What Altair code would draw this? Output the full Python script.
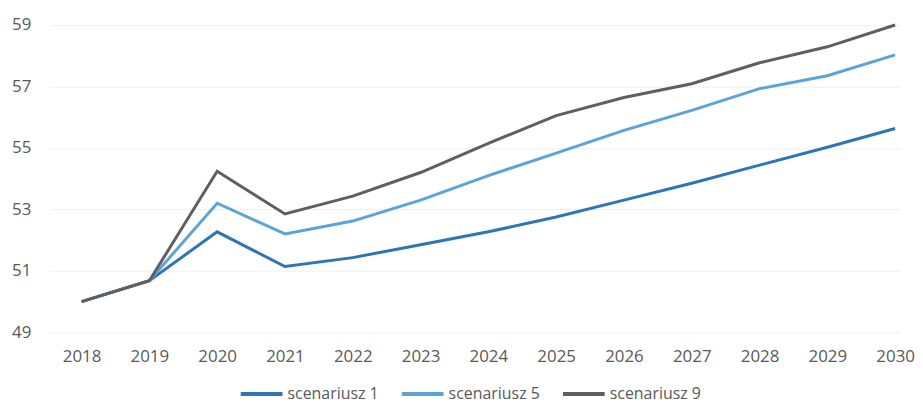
import altair as alt
import pandas as pd

years = [2018, 2019, 2020, 2021, 2022, 2023, 2024, 2025, 2026, 2027, 2028, 2029, 2030]
s1 = [50.0, 50.68, 52.27, 51.14, 51.43, 51.85, 52.27, 52.75, 53.30, 53.85, 54.44, 55.02, 55.63]
s5 = [50.0, 50.68, 53.20, 52.20, 52.62, 53.30, 54.10, 54.83, 55.57, 56.22, 56.93, 57.35, 58.03]
s9 = [50.0, 50.68, 54.24, 52.85, 53.43, 54.20, 55.15, 56.05, 56.64, 57.09, 57.77, 58.29, 59.00]
series_names = ["scenariusz 1", "scenariusz 5", "scenariusz 9"]
series_colors = ["#2E75B6", "#5BA3D9", "#5F5F5F"]
y_ticks = [49, 51, 53, 55, 57, 59]

rows = []
for name, vals in zip(series_names, [s1, s5, s9]):
    for yr, v in zip(years, vals):
        rows.append({"rok": yr, "wartosc": v, "seria": name})
df = pd.DataFrame(rows)

FONT = "Open Sans"
TXT = "#595959"

chart = alt.Chart(df).mark_line(strokeWidth=3).encode(
    x=alt.X("rok:Q",
            scale=alt.Scale(domain=[2017.531, 2030.073], nice=False, zero=False),
            axis=alt.Axis(values=years, format="d", title=None, grid=False,
                          domain=False, ticks=False, labelPadding=16,
                          labelFontSize=17, labelColor=TXT, labelFont=FONT)),
    y=alt.Y("wartosc:Q",
            scale=alt.Scale(domain=[49, 59], nice=False, zero=False),
            axis=alt.Axis(values=y_ticks, title=None, grid=True, gridColor="#f0f0f0",
                          domain=False, ticks=False, labelPadding=19,
                          labelFontSize=17, labelColor=TXT, labelFont=FONT)),
    color=alt.Color("seria:N",
                    scale=alt.Scale(domain=series_names, range=series_colors),
                    legend=alt.Legend(title=None, orient="none", direction="horizontal",
                                      legendX=190, legendY=348,
                                      symbolType="stroke", symbolSize=1764,
                                      symbolStrokeWidth=4, labelOffset=3,
                                      columnPadding=15, labelFontSize=16,
                                      labelColor=TXT, labelFont=FONT)),
    order=alt.Order("rok:Q"),
).properties(
    width=855, height=309,
    autosize=alt.AutoSizeParams(type="none"),
    padding={"left": 42, "top": 16, "right": 15, "bottom": 72},
).configure_view(stroke=None)

chart.save("out.html", embed_options={"renderer": "svg", "actions": False})
